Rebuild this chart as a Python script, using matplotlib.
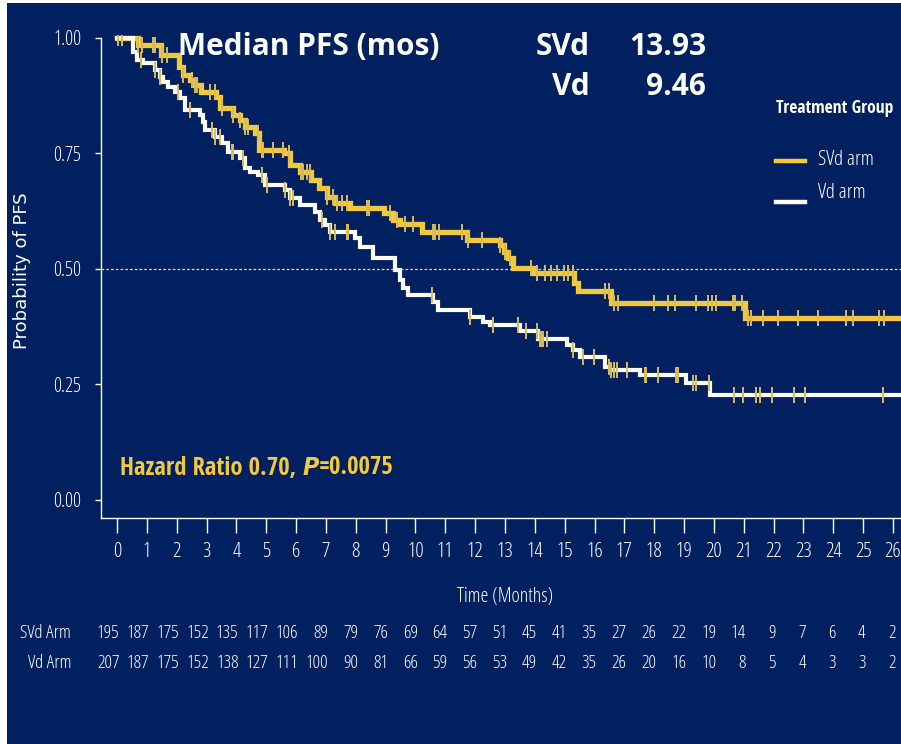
"""
Kaplan-Meier style PFS plot: SVd arm vs Vd arm, with number-at-risk table.
Values read off the reference slide.
"""

import numpy as np
import matplotlib
matplotlib.use("Agg")
import matplotlib.pyplot as plt
from matplotlib.patches import Rectangle
from matplotlib.transforms import blended_transform_factory
from matplotlib.font_manager import FontProperties, fontManager


NAVY = "#002060"
GOLD = "#f2c83c"
CENSOR = "#d9bc56"


def _weight(w):
    names = {"light": 300, "normal": 400, "regular": 400, "medium": 500,
             "semibold": 600, "demibold": 600, "bold": 700, "heavy": 800,
             "black": 900}
    return w if isinstance(w, (int, float)) else names.get(str(w).lower(), 400)


def _pick_condensed(weight, italic):
    """Find an installed condensed sans face close to the slide's Calibri."""
    best, best_score = None, None
    for f in fontManager.ttflist:
        narrow_face = (str(f.stretch) in ("condensed", "semi-condensed")
                       or "Condensed" in f.name or "Narrow" in f.name)
        if not narrow_face:
            continue
        if f.name.startswith("Open Sans"):
            score = 0.0
        elif f.name.startswith("DejaVu Sans") and "Mono" not in f.name:
            score = 1.5
        else:
            continue
        slanted = f.style in ("italic", "oblique")
        score += 0 if slanted == italic else 10
        score += abs(_weight(f.weight) - weight) / 100.0
        score += 0 if str(f.stretch) == "semi-condensed" else 0.3
        if best_score is None or score < best_score:
            best, best_score = f, score
    return best


def narrow(size, weight="normal", style="normal"):
    f = _pick_condensed(_weight(weight), style == "italic")
    if f is not None:
        return FontProperties(fname=f.fname, size=size)
    return FontProperties(family="Open Sans", stretch="condensed",
                          size=size, weight=weight, style=style)


# ---------------------------------------------------------------------------
# Data (months / probability of PFS)
# ---------------------------------------------------------------------------

svd_t = [0.00, 0.70, 1.47, 2.08, 2.21, 2.45, 2.61, 2.81, 3.32, 3.45, 3.89, 4.12,
         4.29, 4.62, 4.76, 5.59, 5.80, 6.13, 6.50, 6.77, 7.04, 7.30, 7.81, 8.94,
         9.25, 9.48, 10.22, 11.73, 12.83, 12.96, 13.10, 13.27, 13.94, 15.31,
         15.44, 16.55, 21.04]
svd_s = [1.000, 0.985, 0.963, 0.937, 0.920, 0.909, 0.898, 0.883, 0.872, 0.848,
         0.833, 0.823, 0.807, 0.794, 0.757, 0.751, 0.725, 0.710, 0.693, 0.675,
         0.656, 0.643, 0.632, 0.621, 0.606, 0.597, 0.580, 0.563, 0.552, 0.537,
         0.524, 0.502, 0.491, 0.470, 0.452, 0.426, 0.394]

vd_t = [0.00, 0.54, 0.67, 0.87, 1.27, 1.44, 1.54, 1.71, 1.94, 2.11, 2.28, 2.78,
        2.88, 2.95, 3.28, 3.52, 3.72, 4.12, 4.29, 4.46, 4.72, 4.96, 5.63, 5.80,
        6.13, 6.63, 6.80, 6.97, 7.14, 7.97, 8.14, 8.58, 9.31, 9.48, 9.58, 9.75,
        10.59, 10.75, 11.83, 12.26, 12.50, 13.50, 14.10, 15.08, 15.28, 15.51,
        16.35, 16.52, 17.52, 19.06, 19.87]
vd_s = [1.000, 0.970, 0.952, 0.946, 0.931, 0.916, 0.905, 0.894, 0.883, 0.870,
        0.844, 0.833, 0.818, 0.801, 0.786, 0.773, 0.753, 0.740, 0.719, 0.710,
        0.703, 0.682, 0.671, 0.654, 0.639, 0.623, 0.606, 0.595, 0.580, 0.567,
        0.548, 0.524, 0.498, 0.476, 0.459, 0.444, 0.429, 0.411, 0.396, 0.385,
        0.379, 0.366, 0.348, 0.335, 0.325, 0.310, 0.288, 0.281, 0.271, 0.253,
        0.227]

svd_cens = [0.03, 0.17, 0.70, 0.84, 1.21, 1.27, 1.51, 1.68, 2.21, 2.51, 2.61,
            2.68, 3.12, 3.28, 3.52, 3.89, 4.12, 4.29, 4.39, 4.72, 4.86, 4.89,
            5.23, 5.56, 5.76, 6.16, 6.23, 6.37, 6.47, 7.04, 7.24, 7.37, 7.54,
            7.71, 8.38, 8.44, 9.15, 9.38, 9.65, 9.92, 10.59, 10.65, 10.79,
            11.56, 11.76, 12.23, 12.83, 13.00, 13.17, 13.87, 14.07, 14.34,
            14.54, 14.74, 14.97, 15.11, 15.28, 16.35, 16.48, 16.65, 16.78,
            17.99, 18.46, 18.69, 19.40, 19.80, 19.93, 20.07, 20.64, 20.70,
            20.94, 21.14, 21.24, 21.64, 22.14, 22.81, 23.48, 24.42, 24.66,
            25.53, 25.70]
vd_cens = [0.80, 1.27, 1.44, 2.04, 2.45, 3.18, 3.28, 3.45, 3.85, 3.89, 4.22,
           4.86, 5.03, 5.63, 5.80, 5.90, 6.87, 7.14, 7.30, 7.71, 7.74, 10.55,
           11.83, 12.60, 13.43, 13.70, 14.07, 14.17, 14.24, 14.27, 14.41,
           15.28, 15.61, 15.98, 16.48, 16.55, 16.65, 16.75, 17.09, 17.69,
           17.72, 18.12, 18.73, 18.79, 19.30, 19.40, 19.83, 20.67, 20.97,
           21.41, 21.54, 21.94, 22.68, 23.05, 25.66]

months = list(range(27))
svd_risk = [195, 187, 175, 152, 135, 117, 106, 89, 79, 76, 69, 64, 57, 51, 45,
            41, 35, 27, 26, 22, 19, 14, 9, 7, 6, 4, 2]
vd_risk = [207, 187, 175, 152, 138, 127, 111, 100, 90, 81, 66, 59, 56, 53, 49,
           42, 35, 26, 20, 16, 10, 8, 5, 4, 3, 3, 2]

X_END = 26.27


def step_value(t, s, x):
    idx = np.searchsorted(t, x, side="right") - 1
    return np.asarray(s)[idx]


# ---------------------------------------------------------------------------
# Figure
# ---------------------------------------------------------------------------

fig = plt.figure(figsize=(9.01, 7.44), dpi=100, facecolor="white")
fig.patches.append(Rectangle((7 / 901, 0), 894 / 901, 741 / 744,
                             transform=fig.transFigure, facecolor=NAVY,
                             edgecolor="none", zorder=-10))

ax = fig.add_axes([101 / 901, 1 - 518 / 744, 800 / 901, 483 / 744])
ax.set_facecolor("none")
ax.set_xlim(-0.536, X_END)
ax.set_ylim(-0.039, 1.006)

# curves
ax.step(svd_t + [X_END], svd_s + [svd_s[-1]], where="post", color=GOLD,
        lw=3.8, zorder=3, solid_joinstyle="miter")
ax.step(vd_t + [X_END], vd_s + [vd_s[-1]], where="post", color="white",
        lw=3.0, zorder=4, solid_joinstyle="miter")

# censor marks
ax.plot(svd_cens, step_value(svd_t, svd_s, svd_cens), ls="none", marker="|",
        ms=12, mew=1.4, color=CENSOR, zorder=5)
ax.plot(vd_cens, step_value(vd_t, vd_s, vd_cens), ls="none", marker="|",
        ms=12, mew=1.4, color=CENSOR, zorder=5)

# median reference line
ax.axhline(0.5, color="#d8dce8", lw=0.9, ls=(0, (2.2, 1.6)), zorder=2)

# axes styling
for side in ("top", "right"):
    ax.spines[side].set_visible(False)
for side in ("left", "bottom"):
    ax.spines[side].set_color("white")
    ax.spines[side].set_linewidth(1.0)
ax.spines["left"].set_bounds(-0.039, 1.0)

ax.set_xticks(months)
ax.set_xticklabels([str(m) for m in months], fontproperties=narrow(15),
                   color="white")
ax.set_yticks([0, 0.25, 0.5, 0.75, 1.0])
ax.set_yticklabels(["0.00", "0.25", "0.50", "0.75", "1.00"],
                   fontproperties=narrow(14.5), color="white")
ax.tick_params(axis="x", direction="out", length=11, width=1.0,
               color="white", pad=6)
ax.tick_params(axis="y", direction="out", length=4, width=1.0,
               color="white", pad=10)

fig.text(0.0244, 1 - 271 / 744, "Probability of PFS", rotation=90,
         ha="center", va="center", color="white", fontsize=13,
         family="DejaVu Sans")

# headline text
head = FontProperties(family="Open Sans", stretch="normal", weight="bold",
                      size=21.5)
fig.text(178 / 901, 1 - 47 / 744, "Median PFS (mos)", ha="left",
         va="center", color="white", fontproperties=head)
for label, value, py in [("SVd", "13.93", 47), ("Vd", "9.46", 87)]:
    fig.text(590 / 901, 1 - py / 744, label, ha="right", va="center",
             color="white", fontproperties=head)
    fig.text(706 / 901, 1 - py / 744, value, ha="right", va="center",
             color="white", fontproperties=head)

# legend
fig.text(776 / 901, 1 - 108 / 744, "Treatment Group", ha="left", va="center",
         color="white", fontproperties=narrow(12.6, "bold"))
for colour, label, line_py, text_py in [(GOLD, "SVd arm", 161, 160),
                                        ("white", "Vd arm", 202, 193)]:
    fig.lines.append(plt.Line2D([776 / 901, 805 / 901],
                                [1 - line_py / 744, 1 - line_py / 744],
                                transform=fig.transFigure, color=colour,
                                lw=3.2))
    fig.text(818 / 901, 1 - text_py / 744, label, ha="left", va="center",
             color="white", fontproperties=narrow(15))

# hazard ratio: plain / italic P / plain, laid end to end
renderer = fig.canvas.get_renderer()
x_px, y_fig = 120, 1 - 468 / 744
for piece, style in [("Hazard Ratio 0.70, ", "normal"), ("P", "italic"),
                     ("=0.0075", "normal")]:
    t = fig.text(x_px / 901, y_fig, piece, ha="left", va="center",
                 color=GOLD, fontproperties=narrow(17.8, "bold", style))
    x_px = t.get_window_extent(renderer).x1

# x label and number-at-risk table
mix = blended_transform_factory(ax.transData, fig.transFigure)
ax.text(13.0, 1 - 597 / 744, "Time (Months)", transform=mix, ha="center",
        va="center", color="white", fontproperties=narrow(14.5), clip_on=False)

for name, counts, py in [("SVd Arm", svd_risk, 633), ("Vd Arm", vd_risk, 663)]:
    fig.text(71 / 901, 1 - py / 744, name, ha="right", va="center",
             color="white", fontproperties=narrow(13.5))
    for m, n in zip(months, counts):
        ax.text(m + 0.08, 1 - py / 744, str(n), transform=mix, ha="right",
                va="center", color="white", fontproperties=narrow(13.5),
                clip_on=False)

fig.savefig("out.png", dpi=100, facecolor=fig.get_facecolor())
